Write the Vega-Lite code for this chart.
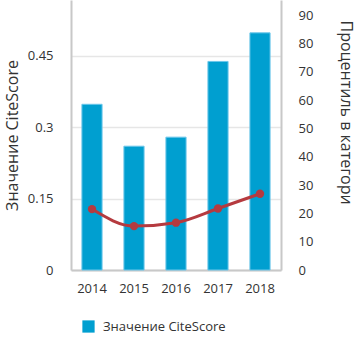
{
  "$schema": "https://vega.github.io/schema/vega-lite/v6.json",
  "autosize": {"type": "none"},
  "width": 210,
  "height": 270,
  "padding": {"left": 71, "top": 0, "right": 75, "bottom": 80},
  "config": {
    "font": "Open Sans",
    "view": {"stroke": null},
    "axis": {"labelColor": "#333333", "labelFontSize": 13, "titleColor": "#333333", "titleFontSize": 16, "titleFontWeight": "normal", "ticks": false, "domainColor": "#c8c8c8", "domainWidth": 2, "gridColor": "#e6e6e6", "gridWidth": 1.5}
  },
  "data": {"values": [
    {"year": "2014", "citescore": 0.348, "percentile": 21.5},
    {"year": "2015", "citescore": 0.26, "percentile": 15.5},
    {"year": "2016", "citescore": 0.279, "percentile": 16.7},
    {"year": "2017", "citescore": 0.438, "percentile": 21.7},
    {"year": "2018", "citescore": 0.498, "percentile": 26.9}
  ]},
  "encoding": {
    "x": {"field": "year", "type": "ordinal", "scale": {"paddingInner": 0.52, "paddingOuter": 0.26},
      "axis": {"title": null, "labelAngle": 0, "labelPadding": 12, "grid": false}}
  },
  "layer": [
    {
      "mark": {"type": "bar", "stroke": "#6cc6ea", "strokeWidth": 1},
      "encoding": {
        "y": {"field": "citescore", "type": "quantitative", "scale": {"domain": [0, 0.567], "nice": false},
          "axis": {"title": "Значение CiteScore", "values": [0, 0.15, 0.3, 0.45], "format": ".2~f", "grid": true, "labelPadding": 18, "titleX": -59, "titleBaseline": "middle"}},
        "color": {"datum": "Значение CiteScore", "type": "nominal", "scale": {"range": ["#009fd0"]},
          "legend": {"title": null, "orient": "none", "legendX": 11, "legendY": 320, "symbolType": "square", "symbolSize": 150, "symbolStrokeWidth": 0, "labelFontSize": 13, "labelColor": "#333333", "labelOffset": 8}}
      }
    },
    {
      "mark": {"type": "line", "interpolate": "monotone", "color": "#b53a3f", "strokeWidth": 3,
        "point": {"filled": true, "size": 70, "color": "#b53a3f"}},
      "encoding": {
        "y": {"field": "percentile", "type": "quantitative", "scale": {"domain": [0, 95.3], "nice": false},
          "axis": {"orient": "right", "title": "Процентиль в категори", "values": [0,10,20,30,40,50,60,70,80,90], "grid": false, "labelPadding": 17, "titleAngle": 90, "titleX": 64, "titleY": 20, "titleAlign": "left", "titleBaseline": "middle"}}
      }
    }
  ],
  "resolve": {"scale": {"y": "independent"}}
}
